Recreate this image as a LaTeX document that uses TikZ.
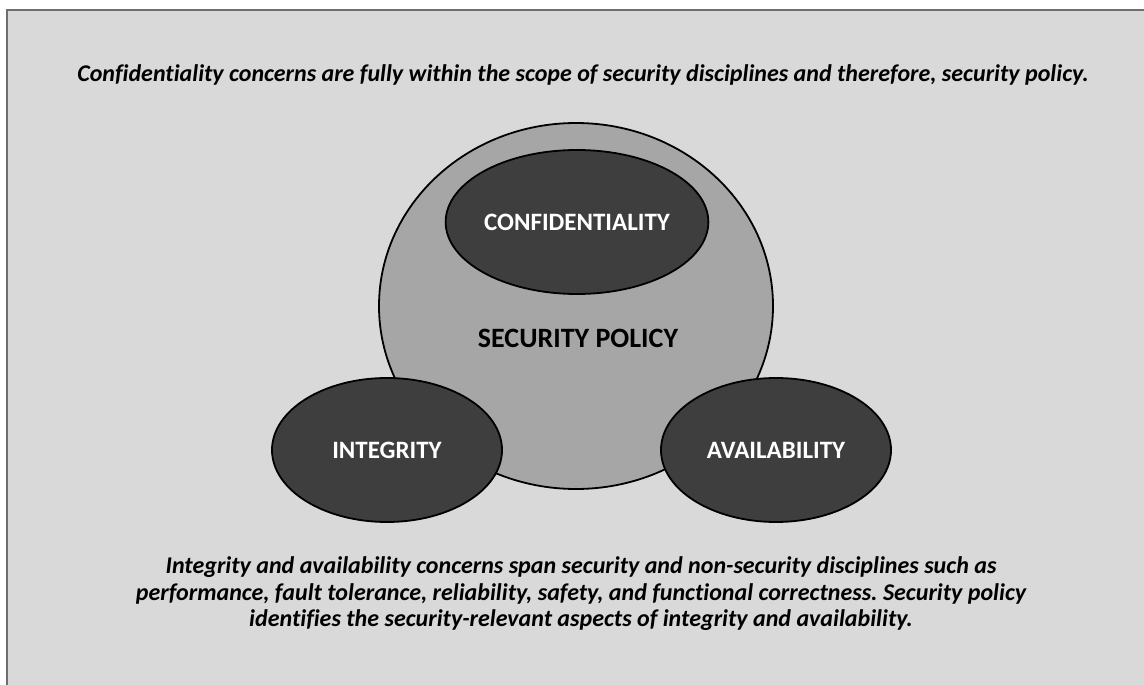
\documentclass[tikz,border=0pt]{standalone}
\usepackage{fontspec}
\setmainfont{Carlito}[Ligatures=NoCommon]
\usetikzlibrary{shapes.geometric}
\definecolor{bg}{RGB}{217,217,217}
\definecolor{pol}{RGB}{166,166,166}
\definecolor{dk}{RGB}{62,62,62}
\definecolor{fr}{RGB}{110,110,110}
\def\bigfont{\fontsize{24}{26.5}\selectfont\bfseries\itshape}
\frenchspacing

\begin{document}
\begin{tikzpicture}[x=1pt,y=-1pt,
  blob/.style={ellipse,draw=black,line width=1.8pt,fill=dk,text=white,minimum width=230pt,minimum height=144pt,inner sep=0pt,font=\fontsize{25}{30}\selectfont\bfseries}]
 	\useasboundingbox (0,0) rectangle (1144,685);
 	\fill [bg](7,10) rectangle (1144,685);
 	\draw [fr,line width=1.2pt](7,685)--(7,10)--(1144,10);
 	\node[font=\bigfont] (toptext) at (583,75) {Confidentiality concerns are fully within the scope of security disciplines and therefore, security policy.};
 	% security policy and the three concerns
 	\node[ellipse,draw=black,line width=1.8pt,fill=pol,minimum width=394pt,minimum height=366pt] (policy) at (576,306) {};
 	\node[font=\fontsize{28}{32}\selectfont\bfseries] (policytext) at (578,338) {SECURITY POLICY};
 	\node[blob] (conf) at (577,222) {CONFIDENTIALITY};
 	\node[blob] (integ) at (387,450) {INTEGRITY};
 	\node[blob] (avail) at (776,450) {AVAILABILITY};
 	\node[font=\bigfont,align=center] (bottext) at (581,594) {Integrity and availability concerns span security and non-security disciplines such as\\performance, fault tolerance, reliability, safety, and functional correctness. Security policy\\identifies the security-relevant aspects of integrity and availability.};
\end{tikzpicture}
\end{document}
